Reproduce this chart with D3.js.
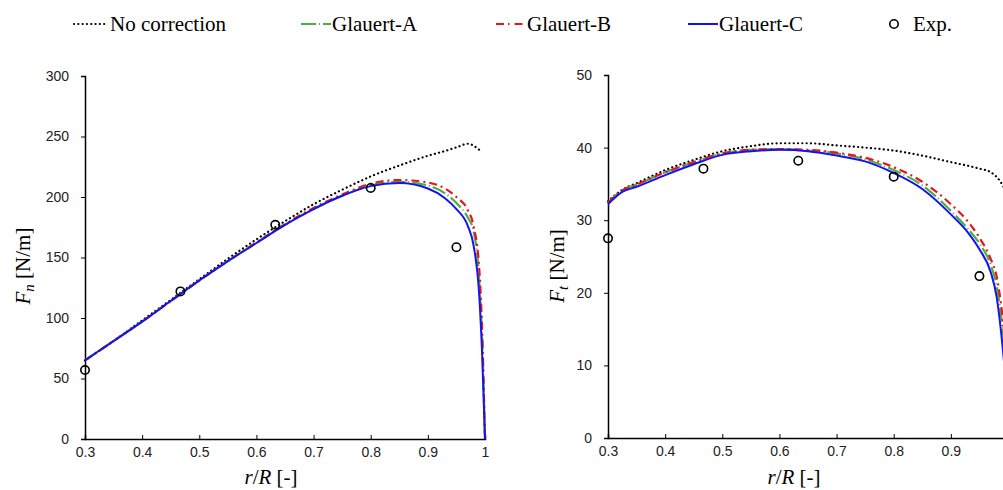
<!DOCTYPE html>
<html>
<head>
<meta charset="utf-8">
<script src="https://cdn.jsdelivr.net/npm/d3@7"></script>
<style>
body { margin: 0; background: #fff; }
svg { display: block; }
</style>
</head>
<body>
<div class="container"></div>
<script>
// radial stations for each series
var rNoCorr = [0.3, 0.35, 0.4, 0.45, 0.5, 0.55, 0.6, 0.65, 0.7, 0.75, 0.8, 0.85, 0.9, 0.93, 0.95, 0.97, 0.99];
var rGlauert = [0.3, 0.35, 0.4, 0.45, 0.5, 0.55, 0.6, 0.65, 0.7, 0.75, 0.8, 0.85, 0.9, 0.93, 0.95, 0.97, 0.98, 0.99, 0.995, 1.0];
var rNoCorrT = [0.3, 0.325, 0.35, 0.4, 0.45, 0.5, 0.55, 0.6, 0.65, 0.7, 0.75, 0.8, 0.85, 0.9, 0.95, 0.97, 0.985, 0.995];
var rGlauertT = [0.3, 0.325, 0.35, 0.4, 0.45, 0.5, 0.55, 0.6, 0.65, 0.7, 0.75, 0.8, 0.85, 0.9, 0.93, 0.95, 0.97, 0.98, 0.99, 1.0];

// normal force Fn [N/m]
var fnNoCorr = [65, 81, 98, 115, 132, 149, 165, 180, 194, 206, 217, 226, 234, 238, 241, 244, 239];
var fnA = [65, 81, 97, 114, 131, 147, 162, 177, 190, 201, 209.5, 212.5, 209.5, 203, 195, 183, 172, 130, 82, 0];
var fnB = [65, 81, 97, 114, 131, 147, 162.5, 177.5, 191, 202, 211, 214, 212, 207, 200, 189, 176, 140, 90, 0];
var fnC = [65, 81, 97, 114, 131, 147, 162, 177, 190, 201, 209, 211.5, 207, 199, 190, 176, 160, 118, 70, 0];

// tangential force Ft [N/m]
var ftNoCorr = [32.6, 34.2, 35.1, 36.9, 38.3, 39.5, 40.2, 40.6, 40.6, 40.3, 40.0, 39.6, 38.9, 38.0, 37.1, 36.6, 35.5, 34.2];
var ftA = [32.4, 34.1, 34.9, 36.6, 38.0, 39.2, 39.7, 39.8, 39.6, 39.2, 38.4, 36.9, 34.8, 31.3, 28.8, 26.8, 23.8, 21.0, 15.5, 7];
var ftB = [32.4, 34.1, 34.9, 36.6, 38.0, 39.2, 39.7, 39.8, 39.7, 39.3, 38.6, 37.3, 35.3, 32.2, 29.8, 27.6, 24.6, 22.3, 17.0, 9];
var ftC = [32.2, 33.9, 34.6, 36.2, 37.7, 39.0, 39.5, 39.7, 39.5, 38.9, 38.1, 36.5, 34.3, 30.8, 28.3, 26.0, 22.8, 19.5, 13.0, 4];

// experiment
var rExp = [0.3, 0.467, 0.633, 0.8, 0.95];
var fnExp = [57, 122, 177, 207.5, 158.5];
var ftExp = [27.5, 37.1, 38.2, 36.0, 22.3];

var xTicks = [0.3, 0.4, 0.5, 0.6, 0.7, 0.8, 0.9, 1];
var fnTicks = [0, 50, 100, 150, 200, 250, 300];
var ftTicks = [0, 10, 20, 30, 40, 50];

var legendNames = ["No correction", "Glauert-A", "Glauert-B", "Glauert-C", "Exp."];

var W = 1003, H = 490;

var styles = [
	{color: "#000", width: 2.2, dash: "0.1,4.2", cap: "round"},
	{color: "#4caf45", width: 2.2, dash: "14,3,1,3", cap: "butt"},
	{color: "#e8161b", width: 2.2, dash: "8,4,2,4", cap: "butt"},
	{color: "#1414f0", width: 2, dash: null, cap: "butt"}
];

var svg = d3.select(".container")
	.insert("svg")
	.attr("width", W)
	.attr("height", H);

function zip(xs, ys) {
	return xs.map(function(x, i) { return [x, ys[i]]; });
}

function drawPanel(opt) {
	var x = d3.scaleLinear().domain([0.3, 1]).range([opt.left, opt.left + 400]);
	var y = d3.scaleLinear().domain([0, opt.ymax]).range([opt.bottom, opt.top]);
	var g = svg.append("g");

	// right panel runs past the picture edge, so its "1" label is not shown
	var xAxis = d3.axisBottom(x).tickValues(xTicks).tickSize(-4).tickPadding(8)
		.tickFormat(function(d) {
			if (x(d) > W - 6) return "";
			return d === 1 ? "1" : d3.format(".1f")(d);
		});
	var yAxis = d3.axisLeft(y).tickValues(opt.ticks).tickSize(4).tickPadding(12);

	g.append("g").attr("transform", "translate(0," + opt.bottom + ")").call(xAxis);
	g.append("g").attr("transform", "translate(" + opt.left + ",0)").call(yAxis);
	g.selectAll(".domain").attr("stroke", "#000").attr("stroke-width", 1.5);
	g.selectAll(".tick line").attr("stroke", "#000").attr("stroke-width", 1);
	g.selectAll(".tick text")
		.style("font-family", "Liberation Sans, Arial, sans-serif")
		.style("font-size", "14px")
		.attr("fill", "#222");

	var line = d3.line()
		.x(function(d) { return x(d[0]); })
		.y(function(d) { return y(d[1]); })
		.curve(d3.curveMonotoneX);

	opt.series.forEach(function(s, i) {
		var st = styles[i];
		g.append("path")
			.datum(zip(s[0], s[1]))
			.attr("d", line)
			.attr("fill", "none")
			.attr("stroke", st.color)
			.attr("stroke-width", st.width)
			.attr("stroke-linecap", st.cap)
			.attr("stroke-dasharray", st.dash);
	});

	g.selectAll("circle.exp")
		.data(zip(rExp, opt.exp))
		.enter().append("circle")
		.attr("class", "exp")
		.attr("cx", function(d) { return x(d[0]); })
		.attr("cy", function(d) { return y(d[1]); })
		.attr("r", 4.2)
		.attr("fill", "none")
		.attr("stroke", "#000")
		.attr("stroke-width", 1.6);

	// x label  r/R [-]
	var xl = g.append("text")
		.attr("x", opt.left + 186)
		.attr("y", 484)
		.attr("text-anchor", "middle")
		.style("font-family", "Liberation Serif, Times New Roman, serif")
		.style("font-size", "21px");
	xl.append("tspan").style("font-style", "italic").text("r");
	xl.append("tspan").text("/");
	xl.append("tspan").style("font-style", "italic").text("R");
	xl.append("tspan").text(" [-]");

	// y label  F_n [N/m]
	var yl = g.append("text")
		.attr("transform", "translate(" + opt.ylabelX + ",266) rotate(-90)")
		.attr("text-anchor", "middle")
		.style("font-family", "Liberation Serif, Times New Roman, serif")
		.style("font-size", "21px");
	yl.append("tspan").style("font-style", "italic").text("F");
	yl.append("tspan").style("font-style", "italic").style("font-size", "15px").attr("dy", 4).text(opt.sub);
	yl.append("tspan").attr("dy", -4).text(" [N/m]");
}

drawPanel({
	left: 85, top: 76, bottom: 439, ymax: 300, ticks: fnTicks, ylabelX: 30, sub: "n",
	series: [[rNoCorr, fnNoCorr], [rGlauert, fnA], [rGlauert, fnB], [rGlauert, fnC]],
	exp: fnExp
});

drawPanel({
	left: 608, top: 75, bottom: 438, ymax: 50, ticks: ftTicks, ylabelX: 564, sub: "t",
	series: [[rNoCorrT, ftNoCorr], [rGlauertT, ftA], [rGlauertT, ftB], [rGlauertT, ftC]],
	exp: ftExp
});

// legend along the top
var legendX = [74, 301, 496, 688, 894];
var legend = svg.append("g");
legendNames.forEach(function(name, i) {
	var lx = legendX[i];
	if (i < 4) {
		var st = styles[i];
		legend.append("line")
			.attr("x1", lx).attr("x2", lx + 34 - (i == 0 ? 0 : 4))
			.attr("y1", 24).attr("y2", 24)
			.attr("stroke", st.color)
			.attr("stroke-width", st.width)
			.attr("stroke-linecap", st.cap)
			.attr("stroke-dasharray", i == 0 ? "0.1,4.2" : (i == 1 ? "15,3,1,3" : (i == 2 ? "8,4,1.5,5" : null)));
	} else {
		legend.append("circle")
			.attr("cx", lx).attr("cy", 24).attr("r", 4.2)
			.attr("fill", "none").attr("stroke", "#000").attr("stroke-width", 1.6);
	}
	legend.append("text")
		.attr("x", i == 0 ? lx + 36 : (i < 4 ? lx + 31 : lx + 19))
		.attr("y", 31)
		.style("font-family", "Liberation Serif, Times New Roman, serif")
		.style("font-size", "21px")
		.text(name);
});
</script>
</body>
</html>
